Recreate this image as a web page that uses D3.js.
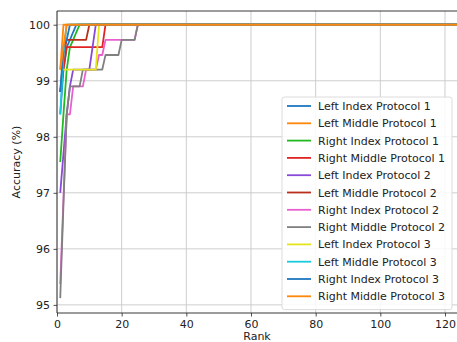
<!DOCTYPE html>
<html>
<head>
<meta charset="utf-8">
<script src="https://cdn.jsdelivr.net/npm/d3@7"></script>
<style>
  html, body { margin: 0; padding: 0; background: #fff; }
  svg { display: block; font-family: "DejaVu Sans", sans-serif; }
</style>
</head>
<body>
<svg id="chart" width="457" height="342"></svg>
<script>
// CMC curves: accuracy (%) at rank 1, 2, 3, ... until each curve reaches 100.
const seriesNames = [
  "Left Index Protocol 1", "Left Middle Protocol 1", "Right Index Protocol 1", "Right Middle Protocol 1",
  "Left Index Protocol 2", "Left Middle Protocol 2", "Right Index Protocol 2", "Right Middle Protocol 2",
  "Left Index Protocol 3", "Left Middle Protocol 3", "Right Index Protocol 3", "Right Middle Protocol 3"
];
const leftIndexP1   = [98.4, 99.2, 99.6, 99.73, 99.87, 100];
const leftMiddleP1  = [99.2, 100];
const rightIndexP1  = [97.55, 98.4, 99.2, 99.6, 99.73, 99.87, 100];
const rightMiddleP1 = [98.8, 99.2, 99.6, 99.6, 99.6, 99.6, 99.6, 99.6, 99.6, 99.6, 99.6, 99.6, 99.6, 99.6, 100];
const leftIndexP2   = [97.0, 97.7, 98.4, 98.9, 99.2, 99.2, 99.2, 99.2, 99.2, 99.2, 99.6, 100];
const leftMiddleP2  = [98.8, 99.46, 99.73, 99.73, 99.73, 99.73, 99.73, 99.73, 99.73, 100];
const rightIndexP2  = [95.37, 96.9, 98.4, 98.4, 98.9, 98.9, 98.9, 98.9, 99.2, 99.2, 99.2, 99.2, 99.46, 99.46, 99.73,
                       99.73, 99.73, 99.73, 99.73, 99.73, 99.73, 99.73, 99.73, 99.73, 100];
const rightMiddleP2 = [95.12, 96.8, 98.4, 98.9, 98.9, 98.9, 98.9, 99.2, 99.2, 99.2, 99.2, 99.2, 99.2, 99.2, 99.46,
                       99.46, 99.46, 99.46, 99.46, 99.73, 99.73, 99.73, 99.73, 99.73, 100];
const leftIndexP3   = [99.2, 99.2, 99.2, 99.2, 99.2, 99.2, 99.2, 99.2, 99.2, 99.2, 99.2, 99.2, 100];
const leftMiddleP3  = [98.4, 99.46, 100];
const rightIndexP3  = [98.8, 99.6, 99.73, 100];
const rightMiddleP3 = [99.2, 99.6, 100];
const maxRank = 124;   // gallery size: every curve stays at its last value up to here

const seriesValues = [leftIndexP1, leftMiddleP1, rightIndexP1, rightMiddleP1,
                      leftIndexP2, leftMiddleP2, rightIndexP2, rightMiddleP2,
                      leftIndexP3, leftMiddleP3, rightIndexP3, rightMiddleP3];
const seriesColors = ["#1f78c0", "#ff870e", "#22b822", "#e02424", "#8a4ad8", "#b8301c",
                      "#e860d0", "#808080", "#e4e41a", "#18cce0", "#1f78c0", "#ff870e"];
const xTicks = [0, 20, 40, 60, 80, 100, 120];
const yTicks = [95, 96, 97, 98, 99, 100];

const svg = d3.select("#chart");
const plot = { left: 57, top: 11, bottom: 313 };

const x = d3.scaleLinear().domain([0, 125]).range([plot.left, plot.left + 125 * 3.2333]);
const y = d3.scaleLinear().domain([94.855, 100.245]).range([plot.bottom, plot.top]);
const plotRight = x.range()[1];

svg.append("defs").append("clipPath").attr("id", "clip")
  .append("rect").attr("x", plot.left).attr("y", plot.top)
  .attr("width", plotRight - plot.left).attr("height", plot.bottom - plot.top);

// grid
const grid = svg.append("g");
grid.selectAll(".gx").data(xTicks).join("line")
  .attr("x1", d => x(d)).attr("x2", d => x(d)).attr("y1", plot.top).attr("y2", plot.bottom)
  .attr("stroke", "#c8c8c8").attr("stroke-width", 0.9);
grid.selectAll(".gy").data(yTicks).join("line")
  .attr("y1", d => y(d)).attr("y2", d => y(d)).attr("x1", plot.left).attr("x2", plotRight)
  .attr("stroke", "#c8c8c8").attr("stroke-width", 0.9);

// curves
const line = d3.line().x(d => x(d[0])).y(d => y(d[1]));
const curves = svg.append("g").attr("clip-path", "url(#clip)");
seriesValues.forEach((vals, i) => {
  const pts = vals.map((v, k) => [k + 1, v]);
  pts.push([maxRank + 1, vals[vals.length - 1]]);
  curves.append("path").datum(pts)
    .attr("d", line).attr("fill", "none")
    .attr("stroke", seriesColors[i]).attr("stroke-width", 1.8)
    .attr("stroke-linejoin", "round");
});

// axes
const xAxis = d3.axisBottom(x).tickValues(xTicks).tickSize(3.5).tickPadding(3.5).tickFormat(d3.format("d"));
const yAxis = d3.axisLeft(y).tickValues(yTicks).tickSize(3.5).tickPadding(3.5).tickFormat(d3.format("d"));
const gx = svg.append("g").attr("transform", `translate(0,${plot.bottom})`).call(xAxis);
const gy = svg.append("g").attr("transform", `translate(${plot.left},0)`).call(yAxis);
[gx, gy].forEach(g => {
  g.select(".domain").remove();
  g.selectAll("line").attr("stroke", "#222").attr("stroke-width", 0.8);
  g.selectAll("text").attr("font-size", 11).attr("fill", "#222")
    .attr("font-family", "DejaVu Sans, sans-serif");
});

// spines
const spines = svg.append("g").attr("stroke", "#222").attr("stroke-width", 0.9);
spines.append("line").attr("x1", plot.left).attr("x2", plot.left).attr("y1", plot.top).attr("y2", plot.bottom);
spines.append("line").attr("x1", plot.left).attr("x2", plotRight).attr("y1", plot.top).attr("y2", plot.top);
spines.append("line").attr("x1", plot.left).attr("x2", plotRight).attr("y1", plot.bottom).attr("y2", plot.bottom);

// axis titles
svg.append("text").attr("x", (plot.left + 457) / 2).attr("y", 340)
  .attr("text-anchor", "middle").attr("font-size", 11).attr("fill", "#222").text("Rank");
svg.append("text").attr("transform", `translate(20,${(plot.top + plot.bottom) / 2}) rotate(-90)`)
  .attr("text-anchor", "middle").attr("font-size", 11).attr("fill", "#222").text("Accuracy (%)");

// legend
const lg = svg.append("g").attr("transform", "translate(282,97)");
const rowH = 17.3;
lg.append("rect").attr("x", 0).attr("y", 0).attr("width", 170).attr("height", 12 * rowH + 5)
  .attr("rx", 2.5).attr("fill", "#fff").attr("fill-opacity", 0.85)
  .attr("stroke", "#d8d8d8").attr("stroke-width", 0.9);
const rows = lg.selectAll(".row").data(seriesNames).join("g")
  .attr("transform", (d, i) => `translate(0,${9 + i * rowH})`);
rows.append("line").attr("x1", 5).attr("x2", 29).attr("y1", 0).attr("y2", 0)
  .attr("stroke", (d, i) => seriesColors[i]).attr("stroke-width", 1.8);
rows.append("text").attr("x", 36).attr("y", 4).attr("font-size", 11).attr("fill", "#222").text(d => d);
</script>
</body>
</html>
